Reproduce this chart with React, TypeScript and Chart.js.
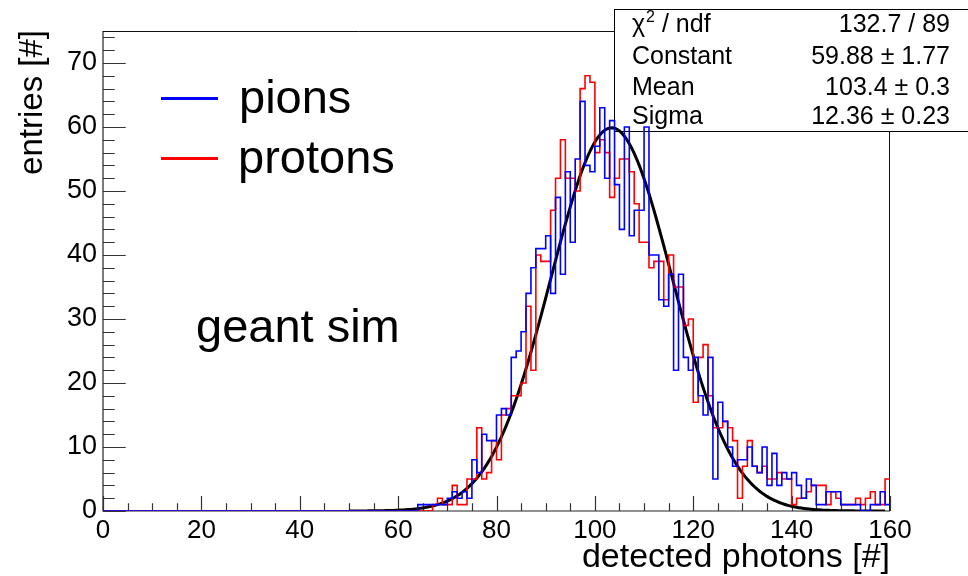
import React, { useEffect, useRef } from "react";
import { Chart, registerables } from "chart.js";

Chart.register(...registerables);

// histogram bins: 160 bins of width 1 from 0 to 160 (left edges 0..159)
const pionCounts = [
  0, 0, 0, 0, 0, 0, 0, 0, 0, 0, 0, 0, 0, 0, 0, 0, 0, 0, 0, 0,
  0, 0, 0, 0, 0, 0, 0, 0, 0, 0, 0, 0, 0, 0, 0, 0, 0, 0, 0, 0,
  0, 0, 0, 0, 0, 0, 0, 0, 0, 0, 0, 0, 0, 0, 0, 0, 0, 0, 0, 0,
  0, 0, 0, 0, 1, 1, 1, 1, 1, 1, 2, 3, 2, 3, 2, 8, 6, 12, 11, 11,
  15, 16, 15, 24, 25, 28, 34, 38, 41, 41, 43, 34, 49, 37, 53, 42, 55, 64, 54, 53,
  57, 63, 52, 61, 51, 44, 60, 43, 47, 47, 60, 40, 40, 33, 32, 37, 22, 37, 24, 22,
  24, 18, 15, 24, 5, 17, 14, 10, 7, 8, 8, 10, 7, 6, 10, 4, 9, 4, 6, 5,
  6, 4, 2, 5, 4, 1, 1, 3, 3, 3, 1, 1, 1, 1, 0, 0, 1, 1, 3, 1,
];

const protonCounts = [
  0, 0, 0, 0, 0, 0, 0, 0, 0, 0, 0, 0, 0, 0, 0, 0, 0, 0, 0, 0,
  0, 0, 0, 0, 0, 0, 0, 0, 0, 0, 0, 0, 0, 0, 0, 0, 0, 0, 0, 0,
  0, 0, 0, 0, 0, 0, 0, 0, 0, 0, 0, 0, 0, 0, 0, 0, 0, 0, 0, 0,
  0, 0, 0, 0, 0, 0, 0, 1, 2, 1, 1, 4, 1, 1, 5, 5, 13, 5, 6, 11,
  8, 15, 16, 18, 18, 20, 32, 22, 40, 39, 39, 47, 52, 58, 52, 52, 50, 66, 68, 67,
  56, 58, 56, 49, 52, 55, 55, 53, 48, 42, 42, 38, 39, 39, 33, 40, 35, 35, 29, 30,
  17, 24, 26, 18, 13, 13, 14, 13, 11, 2, 7, 11, 7, 6, 7, 5, 5, 6, 5, 5,
  1, 2, 2, 3, 4, 4, 4, 1, 3, 2, 1, 1, 1, 2, 1, 2, 3, 1, 1, 5,
];

const xMin = 0;
const xMax = 160;
const yMin = 0;
const yMax = 75;
const xTickValues = [0, 20, 40, 60, 80, 100, 120, 140, 160];
const yTickValues = [0, 10, 20, 30, 40, 50, 60, 70];

// fit parameters as printed in the stats box (ROOT "gaus" fit)
const fitConstant = 59.88;
const fitMean = 103.4;
const fitSigma = 12.36;
const fitRange = [50, 159];

const statsLabels = ["Constant", "Mean", "Sigma"];
const statsValues = ["59.88 \u00b1 1.77", "103.4 \u00b1 0.3", "12.36 \u00b1 0.23"];
const chi2Value = "132.7 / 89";

const legendLabels = ["pions", "protons"];
const legendColors = ["#0000ff", "#ff0000"];
const noteText = "geant sim";
const xTitle = "detected photons [#]";
const yTitle = "entries [#]";

const FONT = '"Liberation Sans", Arial, Helvetica, sans-serif';

function histPoints(counts: number[]) {
  const pts = counts.map((c, i) => ({ x: i, y: c }));
  pts.push({ x: counts.length, y: counts[counts.length - 1] });
  return pts;
}

function fitPoints() {
  const pts: { x: number; y: number }[] = [];
  for (let x = fitRange[0]; x <= fitRange[1] + 1e-9; x += 0.5) {
    const z = (x - fitMean) / fitSigma;
    pts.push({ x, y: fitConstant * Math.exp(-0.5 * z * z) });
  }
  return pts;
}

const rootStyle = {
  id: "rootStyle",
  beforeDatasetsDraw(chart: any) {
    const { ctx, chartArea: a, scales } = chart;
    const xs = scales.x;
    const ys = scales.y;
    ctx.save();
    // stats box (drawn under the data)
    const bx = 614.5, by = 9.5, bw = 400, bh = 122;
    ctx.fillStyle = "#fff";
    ctx.fillRect(bx, by, bw, bh);
    ctx.strokeStyle = "#000";
    ctx.lineWidth = 1;
    ctx.strokeRect(bx, by, bw, bh);

    // frame
    ctx.strokeStyle = "#222";
    ctx.lineWidth = 1.2;
    ctx.beginPath();
    ctx.moveTo(a.left, a.top);
    ctx.lineTo(a.left, a.bottom);
    ctx.lineTo(a.right, a.bottom);
    ctx.stroke();
    ctx.lineWidth = 1;
    ctx.strokeStyle = "#111";
    ctx.beginPath();
    ctx.moveTo(a.left, a.top + 0.5);
    ctx.lineTo(bx, a.top + 0.5);
    ctx.moveTo(a.right - 0.5, by + bh);
    ctx.lineTo(a.right - 0.5, a.bottom);
    ctx.stroke();

    // ticks (inward, ROOT style)
    ctx.strokeStyle = "#333";
    ctx.lineWidth = 1.2;
    ctx.beginPath();
    for (let v = yMin; v <= yMax - 1; v += 2) {
      const py = Math.round(ys.getPixelForValue(v)) + 0.5;
      const len = v % 10 === 0 ? 22.7 : 11.7;
      ctx.moveTo(a.left, py);
      ctx.lineTo(a.left + len, py);
    }
    for (let v = xMin; v <= xMax; v += 5) {
      const px = Math.round(xs.getPixelForValue(v)) + 0.5;
      const len = v % 20 === 0 ? 15 : 7.7;
      ctx.moveTo(px, a.bottom);
      ctx.lineTo(px, a.bottom - len);
    }
    ctx.stroke();

    // stats text
    ctx.fillStyle = "#000";
    ctx.textBaseline = "alphabetic";
    ctx.font = `25px ${FONT}`;
    ctx.textAlign = "left";
    ctx.fillText("\u03c7", 632, 32);
    const chiW = ctx.measureText("\u03c7").width;
    ctx.font = `16px ${FONT}`;
    ctx.fillText("2", 632 + chiW + 1, 22);
    const twoW = ctx.measureText("2").width;
    ctx.font = `25px ${FONT}`;
    ctx.fillText(" / ndf", 632 + chiW + twoW + 1, 32);
    ctx.textAlign = "right";
    ctx.fillText(chi2Value, 950, 32);
    const rowY = [64, 95, 124];
    statsLabels.forEach((lab, i) => {
      ctx.textAlign = "left";
      ctx.fillText(lab, 632, rowY[i]);
      ctx.textAlign = "right";
      ctx.fillText(statsValues[i], 950, rowY[i]);
    });
    ctx.restore();
  },
  afterDraw(chart: any) {
    const { ctx } = chart;
    ctx.save();
    // legend
    const legY = [98.5, 158.5];
    legendLabels.forEach((lab, i) => {
      ctx.strokeStyle = legendColors[i];
      ctx.lineWidth = 3;
      ctx.beginPath();
      ctx.moveTo(161, legY[i]);
      ctx.lineTo(218, legY[i]);
      ctx.stroke();
    });
    ctx.fillStyle = "#000";
    ctx.font = `47px ${FONT}`;
    ctx.textAlign = "left";
    ctx.textBaseline = "alphabetic";
    ctx.fillText(legendLabels[0], 239, 112.5);
    ctx.fillText(legendLabels[1], 238, 173);
    ctx.fillText(noteText, 196, 341.5);

    // axis titles
    ctx.font = `34px ${FONT}`;
    ctx.textAlign = "right";
    ctx.fillText(xTitle, 890, 566.5);
    ctx.save();
    ctx.translate(42, 30);
    ctx.rotate(-Math.PI / 2);
    ctx.font = `33px ${FONT}`;
    ctx.textAlign = "right";
    ctx.fillText(yTitle, 0, 0);
    ctx.restore();
    ctx.restore();
  },
};

export default function App() {
  const canvasRef = useRef<HTMLCanvasElement | null>(null);

  useEffect(() => {
    document.body.style.margin = "0";
    const canvas = canvasRef.current;
    if (!canvas) return;
    const chart = new Chart(canvas, {
      type: "line",
      data: {
        datasets: [
          {
            label: legendLabels[0],
            data: histPoints(pionCounts),
            borderColor: legendColors[0],
            borderWidth: 1.6,
            pointRadius: 0,
            stepped: true,
            fill: false,
          },
          {
            label: legendLabels[1],
            data: histPoints(protonCounts),
            borderColor: legendColors[1],
            borderWidth: 1.6,
            pointRadius: 0,
            stepped: true,
            fill: false,
          },
          {
            label: "fit",
            data: fitPoints(),
            borderColor: "#000",
            borderWidth: 3,
            pointRadius: 0,
            tension: 0,
            fill: false,
          },
        ],
      },
      options: {
        responsive: false,
        animation: false,
        parsing: false as any,
        layout: { padding: { top: 31, right: 78, left: 0, bottom: 0 } },
        plugins: { legend: { display: false }, tooltip: { enabled: false }, title: { display: false } },
        scales: {
          x: {
            type: "linear",
            min: xMin,
            max: xMax,
            afterFit: (s: any) => {
              s.height = 65;
            },
            afterBuildTicks: (s: any) => {
              s.ticks = xTickValues.map((v) => ({ value: v }));
            },
            grid: { display: false, drawTicks: false },
            border: { display: false },
            ticks: {
              color: "#000",
              font: { family: FONT, size: 26 },
              padding: 4,
              maxRotation: 0,
              autoSkip: false,
            },
          },
          y: {
            type: "linear",
            min: yMin,
            max: yMax,
            afterFit: (s: any) => {
              s.width = 103;
            },
            afterBuildTicks: (s: any) => {
              s.ticks = yTickValues.map((v) => ({ value: v }));
            },
            grid: { display: false, drawTicks: false },
            border: { display: false },
            ticks: {
              color: "#000",
              font: { family: FONT, size: 27 },
              padding: 6,
              autoSkip: false,
            },
          },
        },
      },
      plugins: [rootStyle],
    });
    return () => chart.destroy();
  }, []);

  return (
    <div style={{ position: "relative", width: 968, height: 576, background: "#fff" }}>
      <canvas ref={canvasRef} width={968} height={576} style={{ display: "block" }} />
    </div>
  );
}
